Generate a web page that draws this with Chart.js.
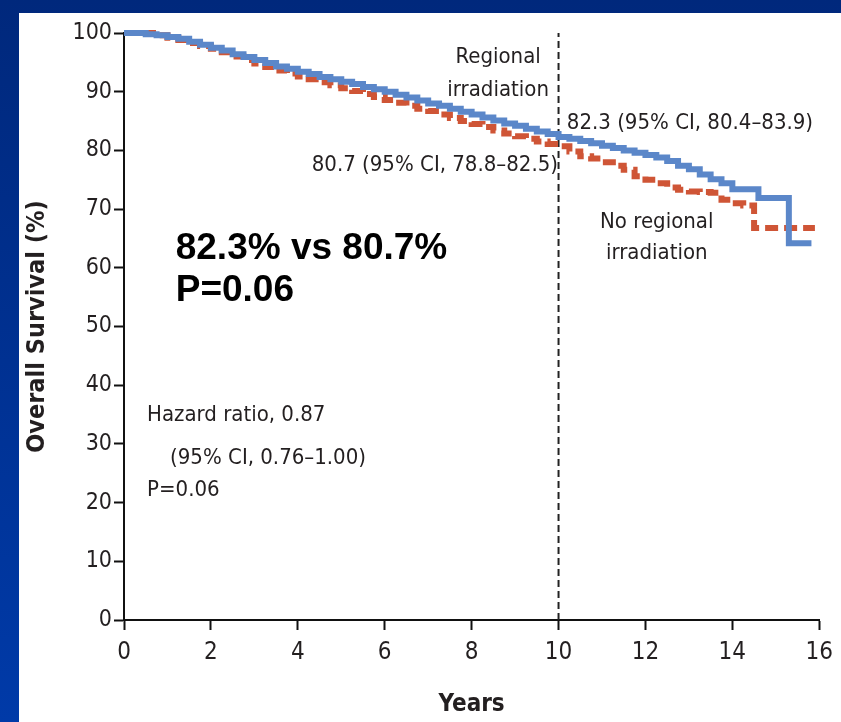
<!DOCTYPE html>
<html>
<head>
<meta charset="utf-8">
<script src="https://cdn.jsdelivr.net/npm/chart.js@4.4.0/dist/chart.umd.min.js"></script>
<style>
  html, body { margin: 0; padding: 0; width: 841px; height: 722px; overflow: hidden;
    background: linear-gradient(to bottom, #00287c, #003aa8); }
  #panel { position: absolute; left: 19px; top: 13px; right: 0; bottom: 0; background: #ffffff; }
  #wrap { position: absolute; left: 0; top: 0; width: 841px; height: 722px; }
</style>
</head>
<body>
<div id="panel"></div>
<div id="wrap"><canvas id="c" width="841" height="722"></canvas></div>
<script>
// Kaplan–Meier overall survival, regional irradiation arm
const regionalYears = [0, 0.5, 0.75, 1, 1.25, 1.5, 1.75, 2, 2.25, 2.5, 2.75, 3, 3.25, 3.5, 3.75, 4,
  4.25, 4.5, 4.75, 5, 5.25, 5.5, 5.75, 6, 6.25, 6.5, 6.75, 7, 7.25, 7.5, 7.75, 8,
  8.25, 8.5, 8.75, 9, 9.25, 9.5, 9.75, 10, 10.25, 10.5, 10.75, 11, 11.25, 11.5, 11.75, 12,
  12.25, 12.5, 12.75, 13, 13.25, 13.5, 13.75, 14, 14.6, 15.3, 15.82];
const regionalSurvival = [100, 99.8, 99.6, 99.3, 99.0, 98.5, 98.0, 97.5, 97.0, 96.4, 95.9, 95.4, 94.9, 94.3, 93.9, 93.4,
  93.0, 92.5, 92.1, 91.7, 91.3, 90.8, 90.4, 90.0, 89.5, 89.0, 88.5, 88.0, 87.6, 87.1, 86.6, 86.1,
  85.6, 85.1, 84.6, 84.2, 83.7, 83.2, 82.8, 82.3, 82.0, 81.6, 81.2, 80.8, 80.4, 80.0, 79.6, 79.2,
  78.8, 78.2, 77.4, 76.8, 75.9, 75.1, 74.4, 73.4, 71.9, 64.2, 64.2];

// Kaplan–Meier overall survival, no regional irradiation arm
const noRegionalYears = [0, 0.75, 1, 1.25, 1.5, 1.75, 2, 2.25, 2.5, 2.75, 3, 3.25, 3.5, 3.75, 4,
  4.25, 4.5, 4.75, 5, 5.25, 5.5, 5.75, 6, 6.25, 6.5, 6.75, 7, 7.25, 7.5, 7.75, 8,
  8.25, 8.5, 8.75, 9, 9.25, 9.5, 9.75, 10, 10.25, 10.5, 10.75, 11, 11.25, 11.5, 11.75, 12,
  12.25, 12.5, 12.75, 13, 13.25, 13.5, 13.75, 14, 14.25, 14.5, 15.9];
const noRegionalSurvival = [100, 99.6, 99.2, 98.8, 98.3, 97.8, 97.3, 96.7, 96.0, 95.4, 94.8, 94.2, 93.6, 93.1, 92.6,
  92.1, 91.6, 91.1, 90.6, 90.1, 89.6, 89.1, 88.6, 88.1, 87.6, 87.1, 86.7, 86.1, 85.5, 85.0, 84.5,
  84.0, 83.4, 82.9, 82.4, 82.0, 81.5, 81.1, 80.7, 79.8, 79.0, 78.6, 78.0, 77.4, 76.7, 75.6, 75.0,
  74.4, 73.7, 73.3, 73.0, 72.9, 72.8, 71.6, 71.0, 70.6, 66.8, 66.8];

// 10-year landmark
const landmarkYear = [10, 10];
const landmarkSpan = [0, 100];

const xTickValues = [0, 2, 4, 6, 8, 10, 12, 14, 16];
const yTickValues = [0, 10, 20, 30, 40, 50, 60, 70, 80, 90, 100];

const narrow = "'Liberation Sans Narrow', 'DejaVu Sans Condensed', 'Open Sans', sans-serif";
const ink = '#231f20';
const noteFont = '22px ' + narrow;
const boldFont = "bold 37px 'Liberation Sans', Arial, sans-serif";

const toPoints = (xs, ys) => xs.map((x, i) => ({ x: x, y: ys[i] }));

// Text notes placed in data coordinates (years, %)
const notes = [
  { text: 'Regional', x: 8.61, y: 95.9, align: 'center', font: noteFont },
  { text: 'irradiation', x: 8.61, y: 90.2, align: 'center', font: noteFont },
  { text: '82.3 (95% CI, 80.4\u201383.9)', x: 10.19, y: 84.7, align: 'left', font: noteFont },
  { text: '80.7 (95% CI, 78.8\u201382.5)', x: 4.32, y: 77.5, align: 'left', font: noteFont },
  { text: 'No regional', x: 12.26, y: 67.8, align: 'center', font: noteFont },
  { text: 'irradiation', x: 12.26, y: 62.4, align: 'center', font: noteFont },
  { text: 'Hazard ratio, 0.87', x: 0.53, y: 34.8, align: 'left', font: noteFont },
  { text: '(95% CI, 0.76\u20131.00)', x: 1.06, y: 27.6, align: 'left', font: noteFont },
  { text: 'P=0.06', x: 0.53, y: 22.1, align: 'left', font: noteFont },
  { text: '82.3% vs 80.7%', x: 1.19, y: 63.2, align: 'left', font: boldFont, color: '#000' },
  { text: 'P=0.06', x: 1.19, y: 56.0, align: 'left', font: boldFont, color: '#000' }
];

const notesPlugin = {
  id: 'notes',
  afterDatasetsDraw(chart) {
    const { ctx, scales } = chart;
    ctx.save();
    ctx.textBaseline = 'middle';
    notes.forEach(n => {
      ctx.font = n.font;
      ctx.fillStyle = n.color || ink;
      ctx.textAlign = n.align;
      ctx.fillText(n.text, scales.x.getPixelForValue(n.x), scales.y.getPixelForValue(n.y));
    });
    ctx.restore();
  }
};

new Chart(document.getElementById('c'), {
  type: 'line',
  data: {
    datasets: [
      {
        label: 'Regional irradiation',
        data: toPoints(regionalYears, regionalSurvival),
        borderColor: '#5b87c9',
        borderWidth: 6,
        stepped: true,
        pointRadius: 0,
        fill: false,
        clip: false
      },
      {
        label: 'No regional irradiation',
        data: toPoints(noRegionalYears, noRegionalSurvival),
        borderColor: '#cf5536',
        borderWidth: 6,
        borderDash: [13, 6],
        stepped: true,
        pointRadius: 0,
        fill: false,
        clip: false
      },
      {
        label: '10 years',
        data: toPoints(landmarkYear, landmarkSpan),
        borderColor: '#222222',
        borderWidth: 2,
        borderDash: [7, 4],
        pointRadius: 0,
        fill: false
      }
    ]
  },
  options: {
    responsive: false,
    animation: false,
    layout: { padding: { top: 33, right: 18, bottom: 0, left: 0 } },
    plugins: { legend: { display: false }, tooltip: { enabled: false } },
    scales: {
      x: {
        type: 'linear',
        min: 0,
        max: 16,
        afterBuildTicks: s => { s.ticks = xTickValues.map(v => ({ value: v })); },
        afterFit: s => { s.height = 102; },
        border: { color: '#111', width: 2 },
        grid: { drawOnChartArea: false, drawTicks: true, tickLength: 10, tickColor: '#111', tickWidth: 2 },
        ticks: { color: ink, font: { family: narrow, size: 24 }, padding: 8, maxRotation: 0 },
        title: { display: true, text: 'Years', color: ink, font: { family: narrow, size: 24, weight: 'bold' }, padding: { top: 0, bottom: 3 } }
      },
      y: {
        type: 'linear',
        min: 0,
        max: 100,
        afterBuildTicks: s => { s.ticks = yTickValues.map(v => ({ value: v })); },
        afterFit: s => { s.width = 124; },
        border: { color: '#111', width: 2 },
        grid: { drawOnChartArea: false, drawTicks: true, tickLength: 10, tickColor: '#111', tickWidth: 2 },
        ticks: { color: ink, font: { family: narrow, size: 23 }, padding: 2 },
        title: { display: true, text: 'Overall Survival (%)', color: ink, font: { family: narrow, size: 25, weight: 'bold' }, padding: { top: 22, bottom: 0 } }
      }
    }
  },
  plugins: [notesPlugin]
});
</script>
</body>
</html>
